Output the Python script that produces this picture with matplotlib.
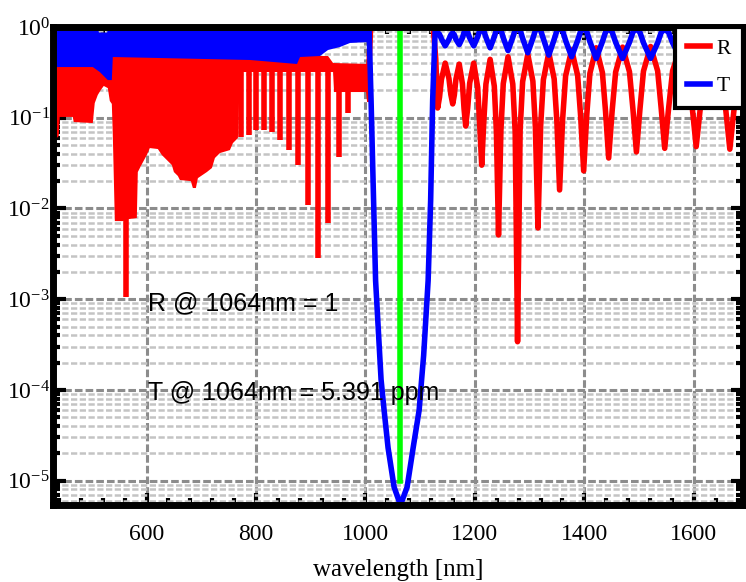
import matplotlib
matplotlib.use("Agg")
import matplotlib.pyplot as plt
import numpy as np
from matplotlib.ticker import LogLocator, MultipleLocator, NullFormatter

# ---- data (wavelength in nm) ----

# dense ripple below the stopband: red band drawn as lower / upper envelope
band_lam_lo = [430, 435.9, 439.6, 441.4, 465.2, 467.0, 501.8, 505.4, 510.9, 516.4,
               521.9, 529.3, 532.9, 536.6, 538.4, 542.1, 556.7, 567.6, 582.3, 584.1,
               589.6, 600.5, 606.0, 620.7, 628.0, 637.1, 646.3, 650.0, 657.3, 660.9,
               681.0, 684.7, 690.2, 693.9, 710.3, 719.5, 725.0, 734.1, 752.4, 757.9,
               767.0, 770.7, 940.9, 942.7, 1001.2, 1003.0, 1006.7]
band_R_lo = [0.0568, 0.0597, 0.0628, 0.102, 0.102, 0.0897, 0.0874, 0.145, 0.178, 0.202,
             0.224, 0.212, 0.153, 0.142, 0.0645, 0.00726, 0.00726, 0.00764, 0.00784, 0.0252,
             0.0293, 0.0388, 0.0463, 0.0452, 0.0388, 0.0342, 0.0301, 0.0252, 0.0228, 0.0206,
             0.0200, 0.0168, 0.0168, 0.0216, 0.0252, 0.0279, 0.0360, 0.0408, 0.0440, 0.0526,
             0.0597, 0.319, 0.319, 0.192, 0.192, 0.149, 0.149]
band_lam_hi = [430, 879, 880.5, 931.7, 940.9, 1006.7]
band_R_hi = [0.55, 0.55, 0.479, 0.479, 0.401, 0.391]

# narrow reflection dips inside the ripple region
dip_lam = [562.2, 773.1, 786.6, 799.4, 814.1, 828.7, 843.9, 860.9, 877.4, 895.6,
           913.9, 932.2, 951.3, 968.8]
dip_R = [1.05e-3, 0.0617, 0.0645, 0.0731, 0.0731, 0.0701, 0.0568, 0.0440, 0.0301, 0.0109,
         0.00282, 0.00685, 0.0372, 0.112]

# blue band (transmission ripple) below the stopband
tband_lam_lo = [430, 501.8, 514.6, 529.3, 536.6, 538.4, 789.0, 875.0, 880.5, 917.1,
                931.7, 953.6, 971.9, 1006.7]
tband_T_lo = [0.362, 0.362, 0.319, 0.260, 0.260, 0.467, 0.433, 0.391, 0.467, 0.479,
              0.558, 0.602, 0.667, 0.683]
tband_lam_hi = [430, 511, 513, 528, 530, 935, 940, 1006.7]
tband_T_hi = [1.0, 1.0, 0.87, 0.87, 1.0, 1.0, 0.93, 0.93]

# stopband
stop_lam = [1006.7, 1010.3, 1014.9, 1018.6, 1028.6, 1034.1, 1041.4, 1052.4, 1064.0,
            1076.2, 1087.2, 1098.2, 1102.7, 1106.4, 1114.6, 1119.2, 1122.9, 1127.5]
stop_T = [0.93, 0.158, 0.0123, 1.6e-3, 1.3e-4, 6.0e-5, 2.3e-5, 8.5e-6, 5.391e-6,
          8.5e-6, 2.3e-5, 6.0e-5, 1.3e-4, 2.4e-4, 1.6e-3, 0.0123, 0.158, 0.93]
stopR_lam = [1006.7, 1009.5, 1064.0, 1124.0, 1128.5]
stopR = [0.391, 0.99, 0.999995, 0.99, 0.45]

# long-wavelength side: clean fringes (R and T on a shared grid)
right_lam = [1132.0,
             1135.4, 1138.9, 1145.8, 1152.6, 1156.1, 1159.5,
             1162.5, 1165.4, 1171.4, 1177.3, 1180.2, 1183.2,
             1186.9, 1190.5, 1197.9, 1205.2, 1208.8, 1212.5,
             1216.3, 1220.2, 1227.9, 1235.5, 1239.4, 1243.2,
             1247.6, 1251.9, 1260.6, 1269.3, 1273.7, 1278.0,
             1282.7, 1287.3, 1296.7, 1306.0, 1310.6, 1315.3,
             1320.2, 1325.2, 1335.1, 1344.9, 1349.9, 1354.8,
             1360.3, 1365.8, 1376.8, 1387.8, 1393.3, 1398.8,
             1404.5, 1410.2, 1421.7, 1433.1, 1438.8, 1444.5,
             1450.8, 1457.2, 1469.9, 1482.5, 1488.9, 1495.2,
             1501.7, 1508.1, 1521.1, 1534.0, 1540.4, 1546.9,
             1554.1, 1561.3, 1575.7, 1590.0, 1597.2, 1604.4,
             1612.1, 1619.8, 1635.2, 1650.5, 1658.2, 1665.9,
             1673.8, 1681.7, 1690.0]
right_R = [0.128,
           0.168, 0.264, 0.40, 0.271, 0.180, 0.142,
           0.178, 0.266, 0.39, 0.236, 0.126, 0.081,
           0.128, 0.24, 0.40, 0.215, 0.084, 0.030,
           0.090, 0.235, 0.44, 0.223, 0.069, 0.0051,
           0.073, 0.238, 0.47, 0.235, 0.069, 3.4e-4,
           0.073, 0.25, 0.50, 0.253, 0.078, 0.0061,
           0.081, 0.263, 0.52, 0.268, 0.090, 0.016,
           0.095, 0.288, 0.56, 0.293, 0.104, 0.026,
           0.108, 0.308, 0.59, 0.313, 0.117, 0.036,
           0.118, 0.318, 0.60, 0.321, 0.123, 0.042,
           0.125, 0.326, 0.61, 0.328, 0.128, 0.046,
           0.128, 0.328, 0.61, 0.329, 0.130, 0.048,
           0.130, 0.329, 0.61, 0.328, 0.127, 0.045,
           0.127, 0.33, 0.55]
right_T = [0.87,
           0.83, 0.74, 0.62, 0.73, 0.82, 0.86,
           0.82, 0.73, 0.64, 0.76, 0.87, 0.92,
           0.87, 0.76, 0.62, 0.78, 0.91, 0.97,
           0.91, 0.77, 0.59, 0.78, 0.93, 0.99,
           0.93, 0.76, 0.55, 0.77, 0.93, 1.0,
           0.93, 0.75, 0.52, 0.75, 0.92, 0.99,
           0.92, 0.74, 0.49, 0.73, 0.91, 0.98,
           0.91, 0.71, 0.47, 0.71, 0.90, 0.97,
           0.89, 0.69, 0.45, 0.69, 0.88, 0.96,
           0.88, 0.68, 0.45, 0.68, 0.88, 0.96,
           0.87, 0.67, 0.45, 0.67, 0.87, 0.95,
           0.87, 0.67, 0.45, 0.67, 0.87, 0.95,
           0.87, 0.67, 0.45, 0.67, 0.87, 0.95,
           0.87, 0.67, 0.47]

design_lam = 1064
marker_range = [1e-5, 1]
T_min = 5.391e-6

# ---- plot ----
plt.rcParams['font.family'] = ['Liberation Serif', 'DejaVu Serif']
plt.rcParams['axes.unicode_minus'] = False
sans = ['Liberation Sans', 'DejaVu Sans']

fig = plt.figure(figsize=(7.46, 5.82), dpi=100)
ax = fig.add_axes([0.0717, 0.1323, 0.9243, 0.8213])
ax.set_yscale('log')

# R
ax.fill(band_lam_lo + band_lam_hi[::-1], band_R_lo + band_R_hi[::-1],
        color='r', lw=0, zorder=2)
ax.vlines(dip_lam, dip_R, 0.35, colors='r', lw=4, capstyle='butt', zorder=2)
ax.plot(stopR_lam + right_lam, stopR + right_R, color='r', lw=4, label='R', zorder=2)

# T
ax.fill(tband_lam_lo + tband_lam_hi[::-1], tband_T_lo + tband_T_hi[::-1],
        color='b', lw=0, zorder=2.1)
ax.plot(stop_lam + right_lam, stop_T + right_T, color='b', lw=4, label='T', zorder=2.1)

ax.plot([design_lam, design_lam], marker_range, color='lime', lw=4, zorder=2.2)

ax.set_xlim(430, 1690)
ax.set_ylim(T_min, 1)

ax.xaxis.set_major_locator(MultipleLocator(200))
ax.xaxis.set_minor_locator(MultipleLocator(40))
ax.yaxis.set_major_locator(LogLocator(base=10, numticks=20))
ax.yaxis.set_minor_locator(LogLocator(base=10, subs=np.arange(2, 10), numticks=20))
ax.yaxis.set_minor_formatter(NullFormatter())

ax.tick_params(which='both', direction='in', top=True, right=True, width=3, labelsize=17)
ax.tick_params(which='major', length=9)
ax.tick_params(which='minor', length=4.7)
ax.tick_params(axis='y', pad=2.5)
ax.tick_params(axis='x', pad=13.5)
for s in ax.spines.values():
    s.set_linewidth(5)

ax.set_axisbelow(True)
ax.grid(which='major', color='#8c8c8c', ls=(0, (2.5, 1)), lw=2.2)
ax.grid(which='minor', axis='y', color='#c4c4c4', ls=(0, (2.5, 1)), lw=1.8)

ax.set_xlabel('wavelength [nm]', fontsize=18, labelpad=10)

ax.text(602.4, 7.59e-4, 'R @ 1064nm = 1', family=sans, fontsize=18, va='baseline')
ax.text(602.4, 7.72e-5, 'T @ 1064nm = %.3f ppm' % (T_min * 1e6), family=sans,
        fontsize=18, va='baseline')

leg = ax.legend(loc='upper right', borderaxespad=0, fancybox=False, framealpha=1,
                edgecolor='k', handlelength=1.1, handletextpad=0.3, labelspacing=0.8,
                borderpad=0.55, fontsize=15.5)
leg.get_frame().set_linewidth(3)

fig.savefig('out.png', dpi=100)
